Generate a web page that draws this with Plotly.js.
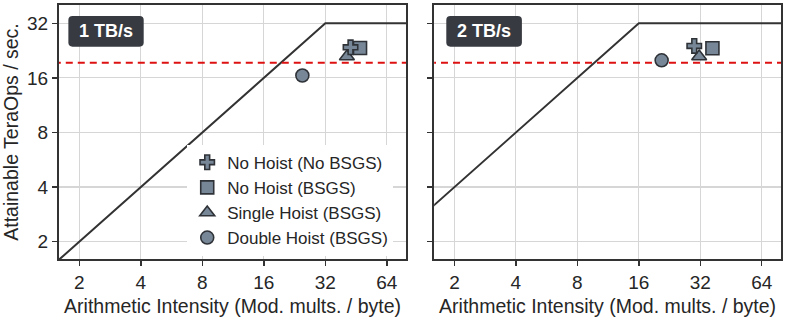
<!DOCTYPE html>
<html>
<head>
<meta charset="utf-8">
<script src="https://cdn.plot.ly/plotly-3.0.1.min.js"></script>
<style>
  html, body { margin: 0; padding: 0; background: #fff; }
  #roofline { width: 785px; height: 328px; }
</style>
</head>
<body>
<div id="roofline"></div>
<script>
// roofline corners (x = mod. mults / byte, y = TeraOps/s)
var roof_x_1tb = [1, 32, 128];
var roof_y_1tb = [1, 32, 32];
var roof_x_2tb = [1, 16, 128];
var roof_y_2tb = [2, 32, 32];

// red dashed reference level
var ref_level = 19.4;

// measured kernels
var names = ['No Hoist (No BSGS)', 'No Hoist (BSGS)', 'Single Hoist (BSGS)', 'Double Hoist (BSGS)'];
var symbols = ['cross', 'square', 'triangle-up', 'circle'];
var ai_1tb = [42.5, 47.3, 40.8, 24.7];
var ops_1tb = [23.6, 23.4, 21.0, 16.5];
var ai_2tb = [29.9, 36.7, 31.6, 20.7];
var ops_2tb = [24.0, 23.3, 21.0, 20.0];

var fill = '#778797';
var edge = '#2f3338';
var dark = '#333333';
var txt = '#262626';
var font = 'Liberation Sans, Arial, Helvetica, sans-serif';

var data = [];

// roofline + red level for both panels
[[roof_x_1tb, roof_y_1tb, 'x', 'y'], [roof_x_2tb, roof_y_2tb, 'x2', 'y2']].forEach(function (p) {
    data.push({
        x: p[0], y: p[1], xaxis: p[2], yaxis: p[3],
        mode: 'lines', line: {color: dark, width: 2}, showlegend: false, hoverinfo: 'skip'
    });
    data.push({
        x: [1, 128], y: [ref_level, ref_level], xaxis: p[2], yaxis: p[3],
        mode: 'lines', line: {color: '#dd1111', width: 2, dash: '7px,5px'}, showlegend: false, hoverinfo: 'skip'
    });
});

// markers, drawn circle first and plus last so the plus sits on top
var sizes = {'cross': 12, 'square': 13, 'triangle-up': 13, 'circle': 13};
var draw_order = [3, 2, 1, 0];
draw_order.forEach(function (i) {
    var mk = {symbol: symbols[i], size: sizes[symbols[i]], color: fill, line: {color: edge, width: 1.6}};
    data.push({
        x: [ai_1tb[i]], y: [ops_1tb[i]], xaxis: 'x', yaxis: 'y',
        mode: 'markers', name: names[i], legendrank: i + 1, marker: mk
    });
    data.push({
        x: [ai_2tb[i]], y: [ops_2tb[i]], xaxis: 'x2', yaxis: 'y2',
        mode: 'markers', name: names[i], showlegend: false, marker: mk
    });
});

var xticks = [2, 4, 8, 16, 32, 64];
var yticks = [2, 4, 8, 16, 32];

function xaxis(domain, anchor) {
    return {
        type: 'log', range: [0.2017, 1.9005], domain: domain, anchor: anchor,
        tickvals: xticks, ticktext: xticks.map(String),
        ticks: 'outside', ticklen: 5, tickwidth: 1.5, tickcolor: dark,
        showline: true, linecolor: dark, linewidth: 2, mirror: true,
        showgrid: true, gridcolor: '#d6d6d6', gridwidth: 1.2, zeroline: false,
        tickfont: {family: font, size: 19, color: txt},
        title: {text: 'Arithmetic Intensity (Mod. mults. / byte)', font: {family: font, size: 19.5, color: txt}, standoff: 8}
    };
}

function yaxis(anchor, labels) {
    var ax = {
        type: 'log', range: [0.2056, 1.606], domain: [0, 1], anchor: anchor,
        tickvals: yticks, ticktext: yticks.map(String), showticklabels: labels,
        ticks: 'outside', ticklen: 5, tickwidth: 1.5, tickcolor: dark,
        showline: true, linecolor: dark, linewidth: 2, mirror: true,
        showgrid: true, gridcolor: '#d6d6d6', gridwidth: 1.2, zeroline: false,
        tickfont: {family: font, size: 19, color: txt}
    };
    if (labels) {
        ax.title = {text: 'Attainable TeraOps / sec.', font: {family: font, size: 19.5, color: txt}, standoff: 4};
    }
    return ax;
}

// rounded dark label box, in axis-domain fractions
function badge(xr, yr, x0, x1) {
    var y0 = 0.836, y1 = 0.957, rx = 0.012, ry = 0.016;
    var path = 'M' + (x0 + rx) + ',' + y1 + ' L' + (x1 - rx) + ',' + y1 +
        ' Q' + x1 + ',' + y1 + ' ' + x1 + ',' + (y1 - ry) +
        ' L' + x1 + ',' + (y0 + ry) + ' Q' + x1 + ',' + y0 + ' ' + (x1 - rx) + ',' + y0 +
        ' L' + (x0 + rx) + ',' + y0 + ' Q' + x0 + ',' + y0 + ' ' + x0 + ',' + (y0 + ry) +
        ' L' + x0 + ',' + (y1 - ry) + ' Q' + x0 + ',' + y1 + ' ' + (x0 + rx) + ',' + y1 + ' Z';
    return {type: 'path', xref: xr + ' domain', yref: yr + ' domain', path: path,
            fillcolor: '#373b41', line: {width: 0}};
}

var layout = {
    width: 785, height: 328,
    margin: {l: 58.7, r: 4, t: 5, b: 69},
    paper_bgcolor: '#fff', plot_bgcolor: '#fff',
    font: {family: font, color: txt},
    xaxis: xaxis([0, 0.4808], 'y'),
    yaxis: yaxis('x', true),
    xaxis2: xaxis([0.5196, 1], 'y2'),
    yaxis2: yaxis('x2', false),
    shapes: [badge('x', 'y', 0.027, 0.244), badge('x2', 'y2', 0.035, 0.253)],
    annotations: [
        {xref: 'paper', yref: 'paper', x: 0.065, y: 0.8965, xanchor: 'center', yanchor: 'middle',
         text: '<b>1 TB/s</b>', showarrow: false, font: {family: font, size: 18, color: '#fff'}},
        {xref: 'paper', yref: 'paper', x: 0.5886, y: 0.8965, xanchor: 'center', yanchor: 'middle',
         text: '<b>2 TB/s</b>', showarrow: false, font: {family: font, size: 18, color: '#fff'}}
    ],
    legend: {
        x: 0.1776, y: 0.45, xanchor: 'left', yanchor: 'top',
        bgcolor: '#fff', borderwidth: 0,
        font: {family: font, size: 17, color: txt},
        itemwidth: 30, tracegroupgap: 0
    },
    showlegend: true
};

Plotly.newPlot('roofline', data, layout, {staticPlot: true});
</script>
</body>
</html>
